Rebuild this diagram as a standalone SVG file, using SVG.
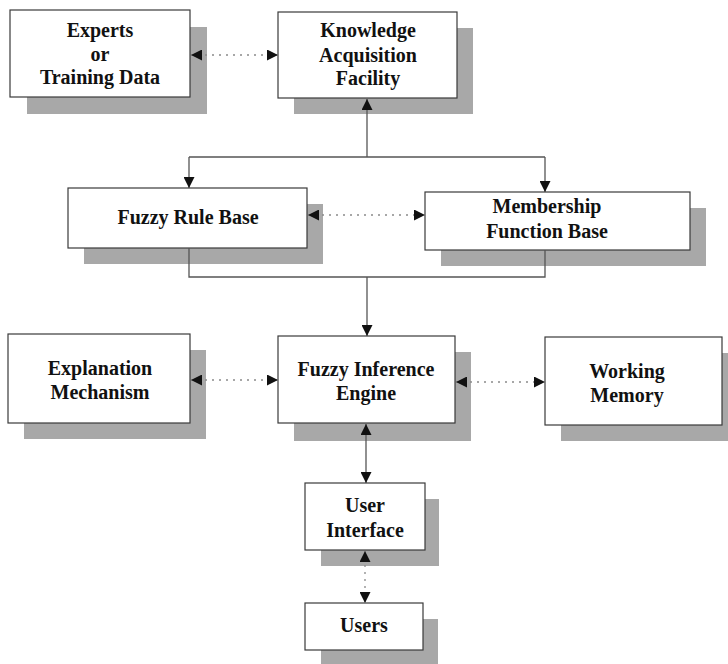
<svg xmlns="http://www.w3.org/2000/svg" width="728" height="664" viewBox="0 0 728 664">
<style>
.shadow{fill:#a8a8a8}
.box{fill:#ffffff;stroke:#3a3a3a;stroke-width:1.2}
.lbl{font-family:"Liberation Serif","Times New Roman",serif;font-weight:bold;font-size:20px;fill:#111;text-anchor:middle}
.solid{fill:none;stroke:#555;stroke-width:1.3}
.dot{fill:none;stroke:#8a8a8a;stroke-width:1.3;stroke-dasharray:2 5}
</style>
<defs>
<marker id="ah" viewBox="0 0 10 10" refX="10" refY="5" markerWidth="11" markerHeight="11" markerUnits="userSpaceOnUse" orient="auto-start-reverse">
<path d="M0,0 L10,5 L0,10 z" fill="#111"/>
</marker>
</defs>
<g id="experts">
<rect class="shadow" x="27" y="27" width="180" height="87"/>
<rect class="box" x="10" y="10" width="180" height="87"/>
<text class="lbl" x="100" y="37">Experts</text>
<text class="lbl" x="100" y="61">or</text>
<text class="lbl" x="100" y="84">Training Data</text>
</g>
<g id="kaf">
<rect class="shadow" x="294" y="28" width="179" height="86"/>
<rect class="box" x="278" y="12" width="179" height="86"/>
<text class="lbl" x="368" y="37">Knowledge</text>
<text class="lbl" x="368" y="62">Acquisition</text>
<text class="lbl" x="368" y="85">Facility</text>
</g>
<g id="frb">
<rect class="shadow" x="84" y="204" width="239" height="60"/>
<rect class="box" x="68" y="188" width="239" height="60"/>
<text class="lbl" x="188" y="224">Fuzzy Rule Base</text>
</g>
<g id="mfb">
<rect class="shadow" x="441" y="208" width="265" height="58"/>
<rect class="box" x="425" y="192" width="265" height="58"/>
<text class="lbl" x="547" y="213">Membership</text>
<text class="lbl" x="547" y="238">Function Base</text>
</g>
<g id="expl">
<rect class="shadow" x="24" y="350" width="182" height="89"/>
<rect class="box" x="8" y="334" width="182" height="89"/>
<text class="lbl" x="100" y="375">Explanation</text>
<text class="lbl" x="100" y="399">Mechanism</text>
</g>
<g id="fie">
<rect class="shadow" x="294" y="352" width="177" height="89"/>
<rect class="box" x="278" y="336" width="177" height="87"/>
<text class="lbl" x="366" y="376">Fuzzy Inference</text>
<text class="lbl" x="366" y="400">Engine</text>
</g>
<g id="wm">
<rect class="shadow" x="561" y="353" width="177" height="88"/>
<rect class="box" x="545" y="337" width="177" height="88"/>
<text class="lbl" x="627" y="378">Working</text>
<text class="lbl" x="627" y="402">Memory</text>
</g>
<g id="ui">
<rect class="shadow" x="321" y="499" width="118" height="67"/>
<rect class="box" x="305" y="483" width="120" height="67"/>
<text class="lbl" x="365" y="512">User</text>
<text class="lbl" x="365" y="537">Interface</text>
</g>
<g id="users">
<rect class="shadow" x="321" y="619" width="117" height="50"/>
<rect class="box" x="305" y="603" width="118" height="47"/>
<text class="lbl" x="364" y="632">Users</text>
</g>
<g id="connectors">
<line class="dot" x1="191" y1="55" x2="278" y2="55" marker-start="url(#ah)" marker-end="url(#ah)"/>
<path class="solid" d="M367,157 L367,99" marker-end="url(#ah)"/>
<path class="solid" d="M189,157 L545,157"/>
<path class="solid" d="M189,157 L189,188" marker-end="url(#ah)"/>
<path class="solid" d="M545,157 L545,192" marker-end="url(#ah)"/>
<line class="dot" x1="308" y1="215" x2="425" y2="215" marker-start="url(#ah)" marker-end="url(#ah)"/>
<path class="solid" d="M189,248 L189,277 L545,277 L545,250"/>
<path class="solid" d="M367,277 L367,336" marker-end="url(#ah)"/>
<line class="dot" x1="191" y1="380" x2="278" y2="380" marker-start="url(#ah)" marker-end="url(#ah)"/>
<line class="dot" x1="456" y1="382" x2="545" y2="382" marker-start="url(#ah)" marker-end="url(#ah)"/>
<line class="solid" x1="366" y1="424" x2="366" y2="483" marker-start="url(#ah)" marker-end="url(#ah)"/>
<line class="dot" x1="365" y1="551" x2="365" y2="603" marker-start="url(#ah)" marker-end="url(#ah)"/>
</g>
</svg>
